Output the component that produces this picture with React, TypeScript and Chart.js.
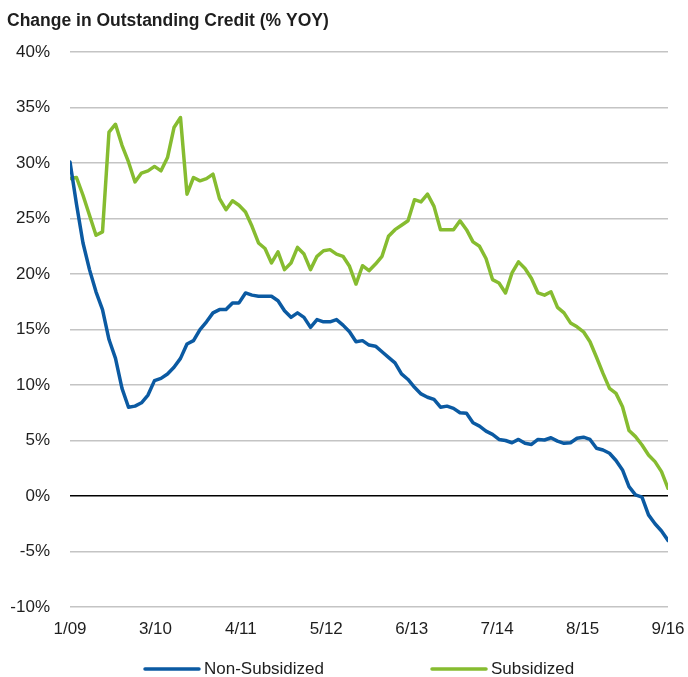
import React, { useEffect, useRef } from "react";
import { Chart, registerables } from "chart.js";

Chart.register(...registerables);

const xTickLabels = ["1/09", "3/10", "4/11", "5/12", "6/13", "7/14", "8/15", "9/16"];

const nonSubsidized = [
  30.1, 26.3, 22.8, 20.4, 18.4, 16.8, 14.1, 12.4, 9.7, 8.0,
  8.1, 8.4, 9.1, 10.4, 10.6, 11.0, 11.6, 12.4, 13.7, 14.0,
  15.0, 15.7, 16.5, 16.8, 16.8, 17.4, 17.4, 18.3, 18.1, 18.0,
  18.0, 18.0, 17.6, 16.7, 16.1, 16.5, 16.1, 15.2, 15.9, 15.7,
  15.7, 15.9, 15.4, 14.8, 13.9, 14.0, 13.6, 13.5, 13.0, 12.5,
  12.0, 11.0, 10.5, 9.8, 9.2, 8.9, 8.7, 8.0, 8.1, 7.9,
  7.5, 7.45, 6.6, 6.3, 5.85, 5.55, 5.1, 5.0, 4.8, 5.1,
  4.75, 4.65, 5.1, 5.05, 5.25, 4.95, 4.75, 4.8, 5.2, 5.3,
  5.1, 4.3, 4.15, 3.85, 3.2, 2.35, 0.85, 0.1, -0.1, -1.7,
  -2.5, -3.15, -4.0,
];

const subsidized = [
  28.6, 28.7, 27.1, 25.3, 23.5, 23.8, 32.8, 33.5, 31.6, 30.1,
  28.3, 29.1, 29.3, 29.7, 29.3, 30.5, 33.2, 34.1, 27.2, 28.7,
  28.4, 28.6, 29.0, 26.8, 25.8, 26.6, 26.2, 25.6, 24.3, 22.8,
  22.3, 21.0, 22.0, 20.4, 21.0, 22.4, 21.8, 20.4, 21.6, 22.1,
  22.2, 21.8, 21.6, 20.7, 19.1, 20.75, 20.3, 20.9, 21.6, 23.4,
  24.0, 24.4, 24.8, 26.7, 26.5, 27.2, 26.1, 24.0, 24.0, 24.0,
  24.8, 24.0, 22.9, 22.5, 21.4, 19.5, 19.2, 18.3, 20.1, 21.1,
  20.5, 19.6, 18.3, 18.1, 18.4, 17.0, 16.5, 15.6, 15.25, 14.8,
  13.9, 12.5, 11.05, 9.7, 9.25, 8.05, 5.9, 5.35, 4.6, 3.7,
  3.1, 2.2, 0.7,
];

const seriesNames = ["Non-Subsidized", "Subsidized"];
const seriesColors = ["#0b5aa2", "#86bc30"];
const titleText = "Change in Outstanding Credit (% YOY)";
const yMin = -10;
const yMax = 40;
const yStep = 5;

const FONT = "'Liberation Sans', Arial, Helvetica, sans-serif";
const TEXT_COLOR = "#1e1e1e";

const bottomLegend = {
  id: "bottomLegend",
  afterDraw(chart: any) {
    const ctx = chart.ctx;
    const ca = chart.chartArea;
    ctx.save();
    ctx.font = `17px ${FONT}`;
    ctx.textBaseline = "alphabetic";
    ctx.textAlign = "left";
    const lineLen = 54;
    const gap = 5;
    const itemGap = 108;
    let x = ca.left + 75;
    const lineY = 669;
    const textY = 674;
    chart.data.datasets.forEach((ds: any) => {
      ctx.strokeStyle = ds.borderColor;
      ctx.lineWidth = 3.5;
      ctx.lineCap = "round";
      ctx.beginPath();
      ctx.moveTo(x, lineY);
      ctx.lineTo(x + lineLen, lineY);
      ctx.stroke();
      x += lineLen + gap;
      ctx.fillStyle = TEXT_COLOR;
      ctx.fillText(ds.label, x, textY);
      x += ctx.measureText(ds.label).width + itemGap;
    });
    ctx.restore();
  },
};

export default function App() {
  const canvasRef = useRef<HTMLCanvasElement | null>(null);

  useEffect(() => {
    const canvas = canvasRef.current;
    if (!canvas) return;
    const lastIndex = nonSubsidized.length - 1;
    const seriesValues = [nonSubsidized, subsidized];
    const chart = new Chart(canvas, {
      type: "line",
      data: {
        datasets: seriesValues.map((vals, k) => ({
          label: seriesNames[k],
          data: vals.map((v, i) => ({ x: i, y: v })),
          borderColor: seriesColors[k],
          backgroundColor: seriesColors[k],
          borderWidth: 3.5,
          pointRadius: 0,
          pointHoverRadius: 0,
          tension: 0,
          borderJoinStyle: "round",
          borderCapStyle: "round",
          fill: false,
        })),
      },
      plugins: [bottomLegend],
      options: {
        animation: false,
        responsive: false,
        events: [],
        layout: { padding: { left: 7, right: 20, top: 0, bottom: 0 } },
        plugins: {
          legend: { display: false },
          tooltip: { enabled: false },
          title: {
            display: true,
            text: titleText,
            align: "start",
            color: TEXT_COLOR,
            font: { family: FONT, size: 17.5, weight: "bold" },
            padding: { top: 11, bottom: 20.1 },
          },
        },
        scales: {
          x: {
            type: "linear",
            min: 0,
            max: lastIndex,
            afterBuildTicks: (scale: any) => {
              const n = xTickLabels.length - 1;
              scale.ticks = xTickLabels.map((_, k) => ({ value: (k * lastIndex) / n }));
            },
            afterFit: (scale: any) => {
              scale.height = 70;
              scale.paddingRight = 0;
              scale.paddingLeft = 0;
            },
            grid: { display: false, drawTicks: false },
            border: { display: false },
            ticks: {
              autoSkip: false,
              maxRotation: 0,
              padding: 12,
              color: TEXT_COLOR,
              font: { family: FONT, size: 17 },
              callback: (_v: any, index: number) => xTickLabels[index],
            },
          },
          y: {
            min: yMin,
            max: yMax,
            afterFit: (scale: any) => {
              scale.width = 63;
              scale.paddingTop = 0;
              scale.paddingBottom = 0;
            },
            grid: {
              drawTicks: false,
              color: (c: any) => (c.tick && c.tick.value === 0 ? "#000000" : "#c4c4c4"),
              lineWidth: 1.5,
            },
            border: { display: false },
            ticks: {
              stepSize: yStep,
              padding: 20,
              color: TEXT_COLOR,
              font: { family: FONT, size: 17 },
              callback: (v: any) => `${v}%`,
            },
          },
        },
      },
    } as any);
    return () => chart.destroy();
  }, []);

  return (
    <div style={{ position: "absolute", left: 0, top: 0, width: 688, height: 677, background: "#fff" }}>
      <canvas ref={canvasRef} width={688} height={677} style={{ display: "block" }} />
    </div>
  );
}
